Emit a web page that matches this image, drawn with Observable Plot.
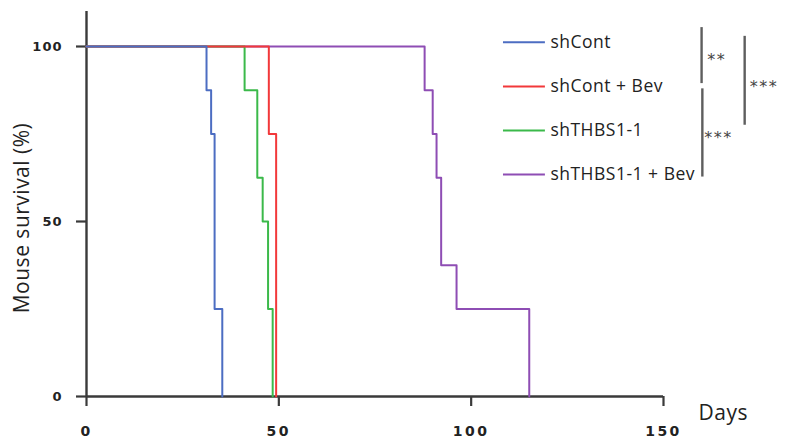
<!DOCTYPE html>
<html>
<head>
<meta charset="utf-8">
<script src="https://cdn.jsdelivr.net/npm/d3@7"></script>
<script src="https://cdn.jsdelivr.net/npm/@observablehq/plot@0.6"></script>
<style>
  html, body { margin: 0; padding: 0; background: #fff; }
  #chart svg { display: block; }
  #chart [aria-label="x-axis tick label"] text { letter-spacing: 2.5px; }
  #chart [aria-label="y-axis tick label"] text { letter-spacing: 1px; }
  #chart .stars text { letter-spacing: 1.5px; }
  #chart .wide text { letter-spacing: 0.5px; }
</style>
</head>
<body>
<div id="chart"></div>
<script>
// Kaplan–Meier survival of tumour-bearing mice (8 per group).
const groups = ["shCont", "shCont + Bev", "shTHBS1-1", "shTHBS1-1 + Bev"];
const groupColors = ["#4c6dc2", "#f2383a", "#3bb94a", "#8e4db4"];

// Event days and survival (%) after each event, per group
const shContDays = [0, 31.2, 32.4, 33.3, 35.3];
const shContSurvival = [100, 87.5, 75, 25, 0];
const shContBevDays = [0, 47.4, 49.3];
const shContBevSurvival = [100, 75, 0];
const shThbsDays = [0, 41.1, 44.4, 45.8, 47.2, 48.4];
const shThbsSurvival = [100, 87.5, 62.5, 50, 25, 0];
const shThbsBevDays = [0, 87.9, 90.0, 91.0, 92.2, 96.2, 115.1];
const shThbsBevSurvival = [100, 87.5, 75, 62.5, 37.5, 25, 0];

const xTicks = [0, 50, 100, 150];
const yTicks = [0, 50, 100];

// Pairwise log-rank comparisons shown next to the legend
const comparisons = [
  {from: "shCont", to: "shCont + Bev", stars: "**"},
  {from: "shCont + Bev", to: "shTHBS1-1 + Bev", stars: "***"},
  {from: "shCont", to: "shTHBS1-1", stars: "***"}
];

const series = [
  [groups[0], shContDays, shContSurvival],
  [groups[1], shContBevDays, shContBevSurvival],
  [groups[2], shThbsDays, shThbsSurvival],
  [groups[3], shThbsBevDays, shThbsBevSurvival]
];

// drawing order: purple underneath, blue on top
const drawOrder = [3, 2, 1, 0];
const rows = drawOrder.flatMap(i => {
  const [group, days, surv] = series[i];
  return days.map((d, k) => ({group, day: d, surv: surv[k]}));
});

// legend rows laid out in the upper-right (in data units of the plot)
const legendTop = 101.2, legendStep = 12.6;
const legendRows = groups.map((g, i) => ({group: g, ly: legendTop - i * legendStep}));
const rowY = g => legendRows.find(r => r.group === g).ly;

// bracket geometry for the comparison marks
const bracketSpec = [
  {x: 159.9, y1: rowY(comparisons[0].from) + 4.2, y2: rowY(comparisons[0].to) + 0.8, tx: 161.4, ty: 97.4},
  {x: 160.1, y1: rowY(comparisons[1].from) - 0.7, y2: rowY(comparisons[1].to) - 0.7, tx: 160.6, ty: 75.1},
  {x: 171.1, y1: rowY(comparisons[2].from) + 1.7, y2: rowY(comparisons[2].to) + 1.5, tx: 172.4, ty: 89.7}
].map((b, i) => ({...b, stars: comparisons[i].stars}));

const axisColor = "#3a3a3a";
const xMax = xTicks[xTicks.length - 1];

const chart = Plot.plot({
  width: 790,
  height: 443,
  marginLeft: 86,
  marginRight: 127,
  marginTop: 11,
  marginBottom: 47,
  x: {domain: [0, xMax], axis: null},
  y: {domain: [0, 110], axis: null},
  color: {domain: groups, range: groupColors},
  style: {fontFamily: "'Open Sans', Lato, sans-serif", color: "#222", overflow: "visible"},
  marks: [
    // axis ticks and labels
    Plot.axisY({ticks: yTicks, tickSize: 10, tickPadding: 14, stroke: axisColor, strokeWidth: 2.2,
      fontSize: 13, fontWeight: "bold", fontFamily: "'DejaVu Sans', sans-serif", fill: "#222", label: null}),
    Plot.axisX({ticks: xTicks, tickSize: 10, tickPadding: 20, stroke: axisColor, strokeWidth: 2.2,
      fontSize: 14, fontWeight: "bold", fontFamily: "'DejaVu Sans', sans-serif", fill: "#222", label: null}),
    // axis lines
    Plot.ruleY([0], {stroke: axisColor, strokeWidth: 2.4}),
    Plot.ruleX([0], {stroke: axisColor, strokeWidth: 2.4}),
    // survival curves
    Plot.line(rows, {x: "day", y: "surv", z: "group", stroke: "group", curve: "step-after", strokeWidth: 2}),
    // axis titles
    Plot.text(["Days"], {x: () => xMax, y: () => 0, dx: 35, dy: 17, textAnchor: "start", fontSize: 21,
      fill: "#222", className: "wide"}),
    Plot.text(["Mouse survival (%)"], {frameAnchor: "left", textAnchor: "middle", rotate: -90, dx: -64, dy: 14,
      fontSize: 21, fill: "#222", className: "wide"}),
    // legend
    Plot.ruleY(legendRows, {y: "ly", x1: 108.4, x2: 119.3, stroke: "group", strokeWidth: 2}),
    Plot.text(legendRows, {y: "ly", x: 120.6, text: "group", textAnchor: "start", fontSize: 17.5,
      fill: "#222", className: "wide"}),
    // significance brackets
    Plot.ruleX(bracketSpec, {x: "x", y1: "y1", y2: "y2", stroke: "#5e5e5e", strokeWidth: 2.4}),
    Plot.text(bracketSpec, {x: "tx", y: "ty", text: "stars", textAnchor: "start", dy: 4, fontSize: 16,
      fontFamily: "'DejaVu Sans', sans-serif", fill: "#444", className: "stars"})
  ]
});

document.getElementById("chart").appendChild(chart);
</script>
</body>
</html>
